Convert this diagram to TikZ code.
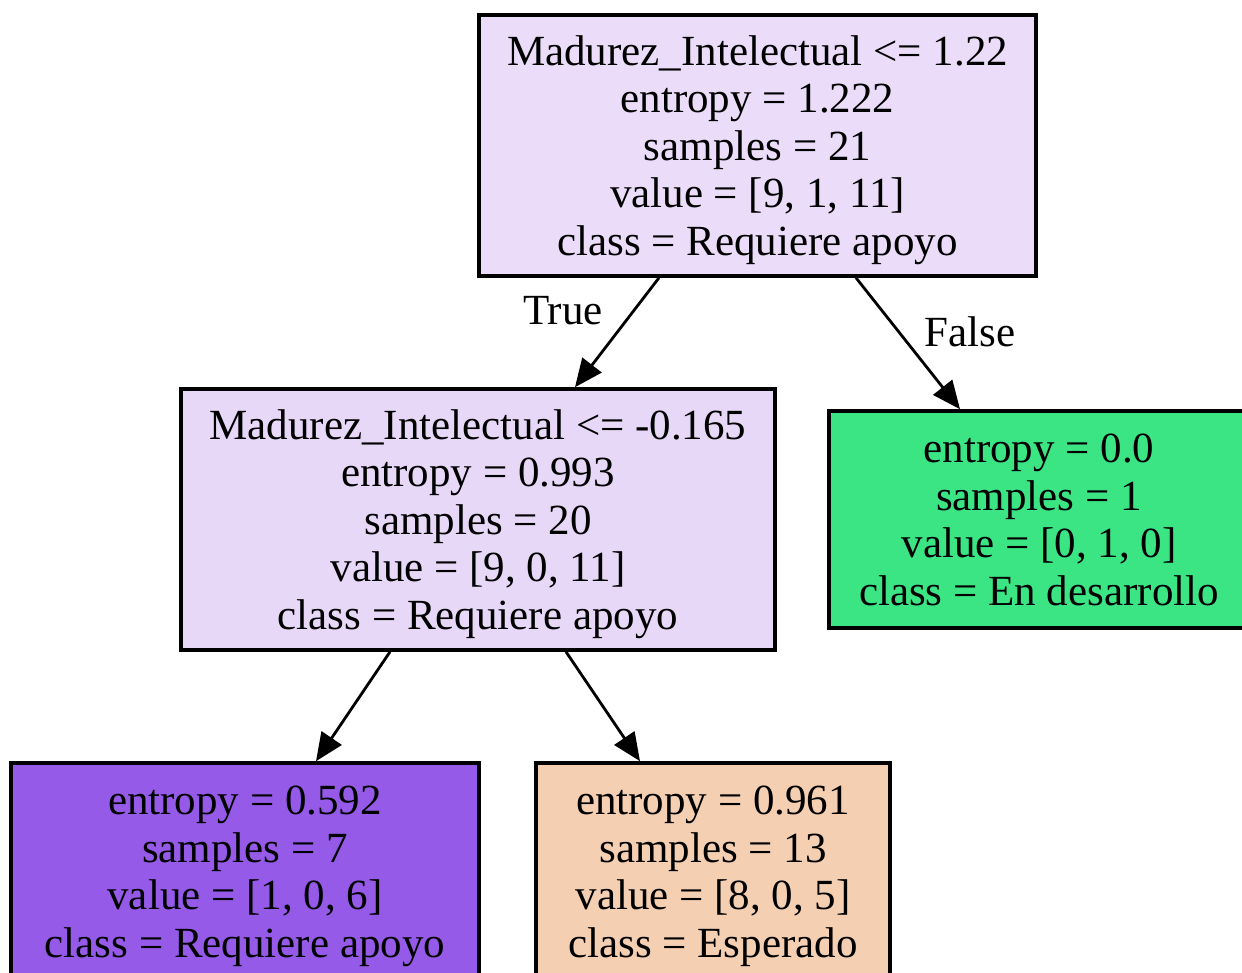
\documentclass[tikz,border=0pt]{standalone}
\usepackage{fontspec}
\setmainfont{Liberation Serif}
\usetikzlibrary{arrows.meta}
\definecolor{rootfill}{HTML}{EBDDF9}
\definecolor{midfill}{HTML}{E7D8F8}
\definecolor{greenfill}{HTML}{3BE584}
\definecolor{purplefill}{HTML}{955AE8}
\definecolor{peachfill}{HTML}{F5CFB2}
\tikzset{
  treenode/.style={draw=black, line width=3.6pt, rectangle, align=center, inner sep=0pt,
    font=\fontsize{43}{47.5}\selectfont, text depth=-4pt},
  edgelbl/.style={font=\fontsize{43}{47.5}\selectfont, inner sep=0pt},
  treeedge/.style={line width=2.8pt, -{Triangle[length=28pt,width=24pt]}}
}
\begin{document}
\begin{tikzpicture}[x=1pt,y=-1pt]
\clip (0,0) rectangle (1242,973);
\fill[white] (0,0) rectangle (1242,973);
\node[treenode, fill=rootfill, minimum width=557pt, minimum height=261pt] (root) at (757.5,145.5)
  {Madurez\_Intelectual <= 1.22\\entropy = 1.222\\samples = 21\\value = [9, 1, 11]\\class = Requiere apoyo};
\node[treenode, fill=midfill, minimum width=594pt, minimum height=261pt] (mid) at (478,519.5)
  {Madurez\_Intelectual <= -0.165\\entropy = 0.993\\samples = 20\\value = [9, 0, 11]\\class = Requiere apoyo};
\node[treenode, fill=greenfill, minimum width=420pt, minimum height=217pt] (green) at (1039,519.5)
  {entropy = 0.0\\samples = 1\\value = [0, 1, 0]\\class = En desarrollo};
\node[treenode, fill=purplefill, minimum width=468pt, minimum height=217pt] (leafa) at (245,871.5)
  {entropy = 0.592\\samples = 7\\value = [1, 0, 6]\\class = Requiere apoyo};
\node[treenode, fill=peachfill, minimum width=354pt, minimum height=217pt] (leafb) at (713,871.5)
  {entropy = 0.961\\samples = 13\\value = [8, 0, 5]\\class = Esperado};
\draw[treeedge] ([xshift=-98.5pt]root.south) -- ([xshift=97pt]mid.north);
\draw[treeedge] ([xshift=98.5pt]root.south) -- ([xshift=-79pt]green.north);
\draw[treeedge] ([xshift=-88pt]mid.south) -- ([xshift=71pt]leafa.north);
\draw[treeedge] ([xshift=88pt]mid.south) -- ([xshift=-73pt]leafb.north);
\node[edgelbl] (truelbl) at (563,311) {True};
\node[edgelbl] (falselbl) at (970,332) {False};
\end{tikzpicture}
\end{document}
